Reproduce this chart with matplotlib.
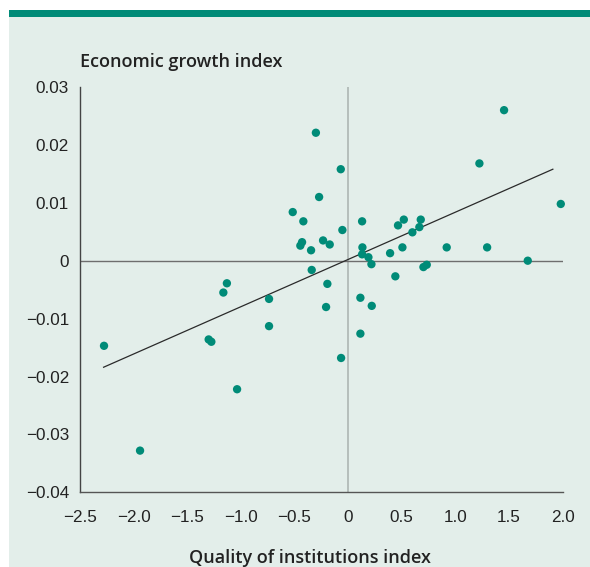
import matplotlib.pyplot as plt
from matplotlib.patches import Rectangle
from matplotlib.ticker import FixedLocator

# quality of institutions index (x) vs economic growth index (y)
calidad = [-0.30, -0.068, -0.27, -0.516, -0.417, -0.053, -0.429, -0.445, -0.233, -0.171,
           -0.345, -0.339, -0.193, -0.205, -1.13, -1.163, -0.737, -2.276, -1.30, -1.275,
           -0.737, -1.035, -1.94, -0.065, 1.455, 1.225, 1.984, 0.131, 0.52, 0.466,
           0.678, 0.665, 0.60, 0.134, 0.131, 0.190, 0.218, 0.392, 0.507, 0.92,
           1.297, 1.676, 0.441, 0.703, 0.734, 0.115, 0.221, 0.115]
crecimiento = [0.0221, 0.0158, 0.0110, 0.0084, 0.0068, 0.0053, 0.0032, 0.0026, 0.0035, 0.0028,
               0.0018, -0.0016, -0.0040, -0.0080, -0.0039, -0.0055, -0.0066, -0.0147, -0.0136, -0.0140,
               -0.0113, -0.0222, -0.0328, -0.0168, 0.0260, 0.0168, 0.0098, 0.0068, 0.0071, 0.0061,
               0.0071, 0.0058, 0.0049, 0.0023, 0.0011, 0.0006, -0.0006, 0.0013, 0.0023, 0.0023,
               0.0023, 0.0000, -0.0027, -0.0011, -0.0007, -0.0064, -0.0078, -0.0126]

# regression line end points
recta_x = [-2.28, 1.91]
recta_y = [-0.0184, 0.0158]

xticks = [-2.5, -2.0, -1.5, -1.0, -0.5, 0, 0.5, 1.0, 1.5, 2.0]
xlabels = ['\u22122.5', '\u22122.0', '\u22121.5', '\u22121.0', '\u22120.5', '0', '0.5', '1.0', '1.5', '2.0']
yticks = [-0.04, -0.03, -0.02, -0.01, 0, 0.01, 0.02, 0.03]
ylabels = ['\u22120.04', '\u22120.03', '\u22120.02', '\u22120.01', '0', '0.01', '0.02', '0.03']

verde = '#008b78'
fondo = '#e3eeea'

plt.rcParams['font.family'] = ['Liberation Sans', 'DejaVu Sans']

fig = plt.figure(figsize=(5.9, 5.67), dpi=100)
fig.patch.set_facecolor('white')
fig.patches.append(Rectangle((9 / 590, 0), 1 - 9 / 590, 1 - 17 / 567,
                             transform=fig.transFigure, facecolor=fondo, edgecolor='none', zorder=-10))
fig.patches.append(Rectangle((9 / 590, 1 - 17 / 567), 1 - 9 / 590, 7 / 567,
                             transform=fig.transFigure, facecolor=verde, edgecolor='none', zorder=-10))

ax = fig.add_axes([80 / 590, (567 - 492.3) / 567, 482.5 / 590, 405.3 / 567])
ax.set_facecolor('none')
ax.set_xlim(-2.5, 2.0)
ax.set_ylim(-0.04, 0.03)

ax.axvline(0, color='#a9b1ae', linewidth=1.1, zorder=1)
ax.axhline(0, color='#6e6e6e', linewidth=1.0, zorder=1)
ax.plot(recta_x, recta_y, color='#2a2a2a', linewidth=0.9, zorder=2)
ax.scatter(calidad, crecimiento, s=36, color=verde, edgecolors='none', zorder=3, clip_on=False)

for lado in ['top', 'right']:
    ax.spines[lado].set_visible(False)
ax.spines['left'].set_color('#444444')
ax.spines['bottom'].set_color('#555555')
ax.spines['left'].set_linewidth(1.0)
ax.spines['bottom'].set_linewidth(1.0)

ax.xaxis.set_major_locator(FixedLocator(xticks))
ax.set_xticklabels(xlabels)
ax.yaxis.set_major_locator(FixedLocator(yticks))
ax.set_yticklabels(ylabels)
ax.tick_params(axis='both', length=0, labelsize=12.3, colors='#222222')
ax.tick_params(axis='x', pad=13)
ax.tick_params(axis='y', pad=8)

fig.text(80 / 590, 1 - 66.7 / 567, 'Economic growth index', fontsize=13, fontweight='semibold',
         family=['Open Sans', 'DejaVu Sans'], color='#222222', va='baseline', ha='left')
fig.text(310 / 590, 1 - 563 / 567, 'Quality of institutions index', fontsize=13, fontweight='semibold',
         family=['Open Sans', 'DejaVu Sans'], color='#222222', va='baseline', ha='center')

fig.savefig('out.png', dpi=100)
